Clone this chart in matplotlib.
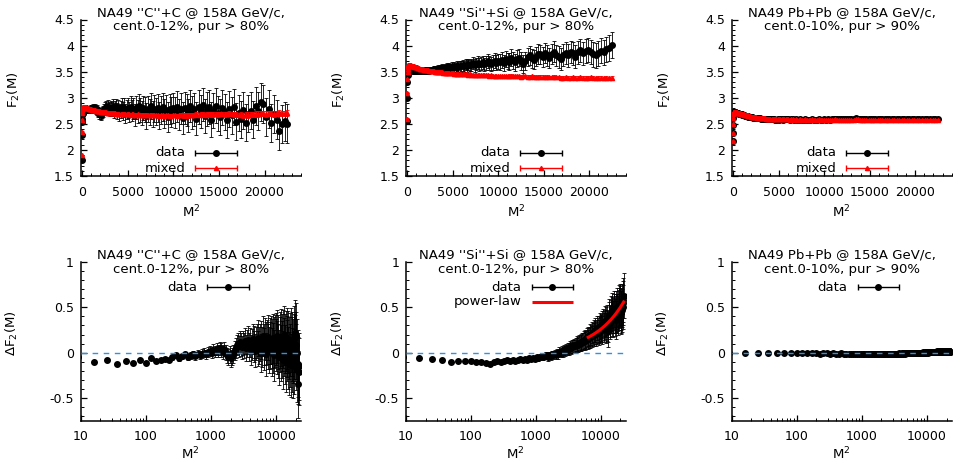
import numpy as np
import matplotlib
matplotlib.use('Agg')
import matplotlib.pyplot as plt
from matplotlib.ticker import MultipleLocator, LogLocator, NullFormatter

plt.rcParams['font.family'] = ['DejaVu Sans']
plt.rcParams['font.size'] = 9
plt.rcParams['mathtext.default'] = 'regular'

# ---------------- data ----------------
M_bins = np.arange(1, 151)          # M = 1 .. 150 bins
M2 = M_bins ** 2                     # x axis: M^2

titles = ["NA49 ''C''+C @ 158A GeV/c,\ncent.0-12%, pur > 80%",
          "NA49 ''Si''+Si @ 158A GeV/c,\ncent.0-12%, pur > 80%",
          "NA49 Pb+Pb @ 158A GeV/c,\ncent.0-10%, pur > 90%"]

C_mixed = [1.90, 2.35, 2.58, 2.70, 2.76, 2.79, 2.80, 2.81, 2.82, 2.82,
           2.82, 2.83, 2.82, 2.83, 2.82, 2.83, 2.82, 2.82, 2.82, 2.82,
           2.81, 2.81, 2.81, 2.80, 2.80, 2.80, 2.79, 2.79, 2.79, 2.78,
           2.78, 2.78, 2.77, 2.77, 2.77, 2.76, 2.76, 2.76, 2.75, 2.75,
           2.75, 2.74, 2.74, 2.74, 2.73, 2.73, 2.73, 2.72, 2.72, 2.72,
           2.72, 2.71, 2.71, 2.71, 2.71, 2.70, 2.70, 2.70, 2.70, 2.70,
           2.69, 2.69, 2.69, 2.69, 2.69, 2.68, 2.68, 2.69, 2.68, 2.68,
           2.68, 2.68, 2.67, 2.68, 2.68, 2.67, 2.67, 2.68, 2.67, 2.67,
           2.67, 2.66, 2.67, 2.67, 2.66, 2.66, 2.67, 2.66, 2.66, 2.66,
           2.66, 2.65, 2.66, 2.66, 2.65, 2.66, 2.66, 2.65, 2.65, 2.66,
           2.66, 2.65, 2.66, 2.67, 2.66, 2.66, 2.67, 2.66, 2.67, 2.67,
           2.67, 2.68, 2.67, 2.68, 2.68, 2.67, 2.68, 2.69, 2.68, 2.68,
           2.69, 2.68, 2.69, 2.69, 2.68, 2.69, 2.70, 2.69, 2.68, 2.68,
           2.67, 2.67, 2.66, 2.67, 2.67, 2.68, 2.68, 2.69, 2.69, 2.70,
           2.70, 2.69, 2.70, 2.70, 2.69, 2.70, 2.71, 2.70, 2.70, 2.71]

C_delta = [-0.10, -0.07, -0.05, -0.10, -0.08, -0.13, -0.09, -0.11, -0.08, -0.11,
           -0.06, -0.09, -0.08, -0.07, -0.08, -0.05, -0.03, -0.06, -0.04, -0.02,
           -0.05, -0.03, -0.02, -0.04, -0.01, -0.03, -0.01, 0.00, -0.02, 0.01,
           0.02, 0.00, 0.03, 0.01, 0.04, 0.02, 0.05, 0.03, 0.01, 0.04,
           0.00, -0.03, -0.05, -0.02, -0.06, -0.04, -0.01, 0.02, 0.05, 0.08,
           0.10, 0.07, 0.12, 0.09, 0.06, 0.11, 0.08, 0.13, 0.05, 0.10,
           0.14, 0.06, 0.11, 0.03, 0.09, 0.15, 0.07, 0.12, 0.02, 0.10,
           0.13, 0.05, 0.16, 0.08, 0.11, 0.00, 0.14, 0.06, 0.18, 0.09,
           0.04, 0.15, 0.10, -0.02, 0.12, 0.07, 0.17, 0.03, 0.13, 0.08,
           0.14, 0.01, 0.10, 0.16, 0.05, 0.11, -0.03, 0.13, 0.08, 0.15,
           0.06, 0.18, 0.02, 0.12, -0.05, 0.14, 0.09, 0.00, 0.17, 0.04,
           0.11, -0.08, 0.15, 0.06, 0.19, -0.02, 0.10, 0.13, -0.10, 0.07,
           0.16, 0.02, -0.06, 0.12, 0.05, -0.12, 0.09, -0.03, 0.14, -0.14,
           0.04, -0.08, 0.10, -0.15, 0.02, 0.07, -0.10, 0.15, 0.05, 0.22,
           0.18, -0.05, 0.08, -0.18, 0.00, -0.12, -0.35, -0.20, -0.15, -0.21]

C_err = [0.010, 0.010, 0.012, 0.012, 0.013, 0.014, 0.015, 0.016, 0.017, 0.018,
         0.019, 0.020, 0.022, 0.023, 0.025, 0.026, 0.028, 0.030, 0.031, 0.033,
         0.035, 0.037, 0.039, 0.041, 0.043, 0.045, 0.047, 0.049, 0.051, 0.054,
         0.056, 0.058, 0.061, 0.063, 0.066, 0.068, 0.071, 0.073, 0.076, 0.079,
         0.082, 0.085, 0.088, 0.091, 0.094, 0.097, 0.100, 0.104, 0.107, 0.110,
         0.114, 0.117, 0.121, 0.124, 0.128, 0.131, 0.135, 0.139, 0.142, 0.146,
         0.150, 0.154, 0.158, 0.162, 0.166, 0.170, 0.174, 0.178, 0.182, 0.186,
         0.190, 0.194, 0.198, 0.202, 0.206, 0.210, 0.214, 0.218, 0.222, 0.226,
         0.230, 0.233, 0.237, 0.240, 0.244, 0.247, 0.250, 0.254, 0.257, 0.260,
         0.263, 0.266, 0.269, 0.272, 0.275, 0.278, 0.281, 0.284, 0.287, 0.290,
         0.292, 0.295, 0.297, 0.300, 0.302, 0.305, 0.307, 0.309, 0.312, 0.314,
         0.316, 0.318, 0.320, 0.322, 0.324, 0.326, 0.328, 0.330, 0.332, 0.334,
         0.336, 0.337, 0.339, 0.341, 0.342, 0.344, 0.345, 0.347, 0.348, 0.350,
         0.351, 0.352, 0.354, 0.355, 0.356, 0.357, 0.358, 0.360, 0.361, 0.362,
         0.363, 0.364, 0.365, 0.366, 0.367, 0.368, 0.369, 0.370, 0.371, 0.372]

C_mixed_err = [0.004, 0.004, 0.005, 0.005, 0.005, 0.006, 0.006, 0.006, 0.007, 0.007,
               0.007, 0.008, 0.008, 0.008, 0.009, 0.009, 0.009, 0.010, 0.010, 0.010,
               0.011, 0.011, 0.011, 0.012, 0.012, 0.012, 0.013, 0.013, 0.013, 0.014,
               0.014, 0.014, 0.015, 0.015, 0.015, 0.016, 0.016, 0.016, 0.017, 0.017,
               0.017, 0.018, 0.018, 0.018, 0.019, 0.019, 0.019, 0.020, 0.020, 0.020,
               0.021, 0.021, 0.021, 0.022, 0.022, 0.022, 0.023, 0.023, 0.023, 0.024,
               0.024, 0.024, 0.025, 0.025, 0.025, 0.026, 0.026, 0.026, 0.027, 0.027,
               0.027, 0.028, 0.028, 0.028, 0.029, 0.029, 0.029, 0.030, 0.030, 0.030,
               0.031, 0.031, 0.031, 0.032, 0.032, 0.032, 0.033, 0.033, 0.033, 0.034,
               0.034, 0.034, 0.035, 0.035, 0.035, 0.036, 0.036, 0.036, 0.037, 0.037,
               0.037, 0.038, 0.038, 0.038, 0.039, 0.039, 0.039, 0.040, 0.040, 0.040,
               0.041, 0.041, 0.041, 0.042, 0.042, 0.042, 0.043, 0.043, 0.043, 0.044,
               0.044, 0.044, 0.045, 0.045, 0.045, 0.046, 0.046, 0.046, 0.047, 0.047,
               0.047, 0.048, 0.048, 0.048, 0.049, 0.049, 0.049, 0.050, 0.050, 0.050,
               0.051, 0.051, 0.051, 0.052, 0.052, 0.052, 0.053, 0.053, 0.053, 0.054]

Si_mixed = [2.60, 3.10, 3.35, 3.50, 3.56, 3.59, 3.60, 3.61, 3.61, 3.62,
            3.62, 3.62, 3.62, 3.62, 3.62, 3.62, 3.62, 3.61, 3.62, 3.61,
            3.61, 3.61, 3.61, 3.60, 3.60, 3.60, 3.60, 3.59, 3.59, 3.59,
            3.58, 3.58, 3.58, 3.57, 3.57, 3.57, 3.56, 3.56, 3.56, 3.55,
            3.55, 3.55, 3.54, 3.54, 3.54, 3.53, 3.53, 3.53, 3.52, 3.52,
            3.52, 3.51, 3.51, 3.51, 3.50, 3.50, 3.50, 3.50, 3.49, 3.49,
            3.49, 3.49, 3.48, 3.48, 3.48, 3.48, 3.47, 3.47, 3.47, 3.47,
            3.47, 3.46, 3.46, 3.46, 3.46, 3.45, 3.46, 3.45, 3.45, 3.45,
            3.45, 3.44, 3.45, 3.44, 3.44, 3.44, 3.44, 3.43, 3.44, 3.43,
            3.43, 3.43, 3.43, 3.43, 3.42, 3.43, 3.42, 3.42, 3.42, 3.42,
            3.42, 3.42, 3.41, 3.42, 3.41, 3.41, 3.42, 3.41, 3.41, 3.41,
            3.41, 3.40, 3.41, 3.41, 3.40, 3.40, 3.41, 3.40, 3.39, 3.40,
            3.40, 3.40, 3.39, 3.40, 3.39, 3.39, 3.40, 3.39, 3.39, 3.38,
            3.38, 3.39, 3.38, 3.38, 3.39, 3.38, 3.38, 3.39, 3.38, 3.38,
            3.38, 3.39, 3.38, 3.37, 3.38, 3.38, 3.37, 3.38, 3.37, 3.38]

Si_delta = [-0.05, -0.10, -0.05, -0.06, -0.07, -0.08, -0.10, -0.09, -0.09, -0.09,
            -0.10, -0.10, -0.11, -0.13, -0.10, -0.09, -0.10, -0.09, -0.08, -0.09,
            -0.08, -0.09, -0.08, -0.07, -0.08, -0.07, -0.08, -0.06, -0.07, -0.06,
            -0.07, -0.05, -0.06, -0.05, -0.04, -0.05, -0.04, -0.03, -0.05, -0.03,
            -0.04, -0.02, -0.03, -0.01, -0.03, 0.00, -0.02, 0.01, 0.00, 0.02,
            0.01, 0.03, 0.02, 0.04, 0.03, 0.05, 0.04, 0.06, 0.05, 0.07,
            0.07, 0.08, 0.07, 0.09, 0.08, 0.10, 0.09, 0.11, 0.10, 0.12,
            0.11, 0.13, 0.12, 0.14, 0.13, 0.15, 0.14, 0.17, 0.15, 0.18,
            0.16, 0.20, 0.17, 0.19, 0.22, 0.18, 0.21, 0.24, 0.20, 0.22,
            0.25, 0.21, 0.23, 0.27, 0.24, 0.22, 0.26, 0.29, 0.25, 0.28,
            0.27, 0.31, 0.25, 0.33, 0.30, 0.28, 0.35, 0.31, 0.27, 0.34,
            0.36, 0.30, 0.24, 0.29, 0.38, 0.41, 0.35, 0.33, 0.40, 0.44,
            0.43, 0.38, 0.46, 0.41, 0.37, 0.45, 0.48, 0.42, 0.39, 0.36,
            0.44, 0.47, 0.43, 0.50, 0.46, 0.41, 0.49, 0.52, 0.47, 0.51,
            0.53, 0.48, 0.45, 0.44, 0.47, 0.52, 0.50, 0.55, 0.58, 0.63]

Si_err = [0.005, 0.005, 0.006, 0.006, 0.007, 0.007, 0.008, 0.008, 0.009, 0.009,
          0.010, 0.010, 0.011, 0.012, 0.012, 0.013, 0.014, 0.014, 0.015, 0.016,
          0.017, 0.018, 0.019, 0.020, 0.021, 0.022, 0.023, 0.024, 0.025, 0.026,
          0.027, 0.028, 0.029, 0.030, 0.032, 0.033, 0.034, 0.035, 0.037, 0.038,
          0.039, 0.041, 0.042, 0.043, 0.045, 0.046, 0.048, 0.049, 0.051, 0.052,
          0.054, 0.055, 0.057, 0.058, 0.060, 0.062, 0.063, 0.065, 0.067, 0.068,
          0.070, 0.072, 0.074, 0.075, 0.077, 0.079, 0.081, 0.083, 0.085, 0.087,
          0.089, 0.091, 0.093, 0.095, 0.097, 0.099, 0.101, 0.103, 0.105, 0.107,
          0.109, 0.111, 0.113, 0.115, 0.117, 0.119, 0.121, 0.123, 0.125, 0.127,
          0.129, 0.131, 0.133, 0.135, 0.137, 0.139, 0.141, 0.143, 0.145, 0.147,
          0.149, 0.151, 0.153, 0.155, 0.157, 0.159, 0.161, 0.163, 0.165, 0.167,
          0.169, 0.171, 0.173, 0.175, 0.177, 0.179, 0.181, 0.183, 0.185, 0.187,
          0.189, 0.191, 0.193, 0.195, 0.197, 0.199, 0.201, 0.203, 0.205, 0.207,
          0.209, 0.211, 0.213, 0.215, 0.217, 0.219, 0.221, 0.223, 0.225, 0.227,
          0.229, 0.231, 0.233, 0.235, 0.237, 0.239, 0.241, 0.243, 0.245, 0.247]

Si_mixed_err = [0.003, 0.003, 0.003, 0.003, 0.003, 0.003, 0.003, 0.004, 0.004, 0.004,
                0.004, 0.004, 0.004, 0.004, 0.004, 0.005, 0.005, 0.005, 0.005, 0.005,
                0.005, 0.005, 0.006, 0.006, 0.006, 0.006, 0.006, 0.006, 0.007, 0.007,
                0.007, 0.007, 0.007, 0.008, 0.008, 0.008, 0.008, 0.008, 0.009, 0.009,
                0.009, 0.009, 0.010, 0.010, 0.010, 0.010, 0.011, 0.011, 0.011, 0.011,
                0.012, 0.012, 0.012, 0.012, 0.013, 0.013, 0.013, 0.013, 0.014, 0.014,
                0.014, 0.014, 0.015, 0.015, 0.015, 0.015, 0.016, 0.016, 0.016, 0.016,
                0.017, 0.017, 0.017, 0.017, 0.018, 0.018, 0.018, 0.018, 0.019, 0.019,
                0.019, 0.019, 0.020, 0.020, 0.020, 0.020, 0.021, 0.021, 0.021, 0.021,
                0.022, 0.022, 0.022, 0.022, 0.023, 0.023, 0.023, 0.023, 0.024, 0.024,
                0.024, 0.024, 0.025, 0.025, 0.025, 0.025, 0.026, 0.026, 0.026, 0.026,
                0.027, 0.027, 0.027, 0.027, 0.028, 0.028, 0.028, 0.028, 0.029, 0.029,
                0.029, 0.029, 0.030, 0.030, 0.030, 0.030, 0.031, 0.031, 0.031, 0.031,
                0.032, 0.032, 0.032, 0.032, 0.033, 0.033, 0.033, 0.033, 0.034, 0.034,
                0.034, 0.034, 0.035, 0.035, 0.035, 0.035, 0.036, 0.036, 0.036, 0.036]

Pb_mixed = [2.17, 2.33, 2.49, 2.62, 2.68, 2.71, 2.72, 2.73, 2.73, 2.73,
            2.73, 2.73, 2.73, 2.73, 2.73, 2.73, 2.72, 2.72, 2.72, 2.72,
            2.71, 2.71, 2.71, 2.71, 2.70, 2.70, 2.70, 2.70, 2.69, 2.69,
            2.69, 2.68, 2.68, 2.68, 2.67, 2.67, 2.67, 2.66, 2.66, 2.66,
            2.65, 2.65, 2.65, 2.64, 2.64, 2.64, 2.63, 2.63, 2.63, 2.63,
            2.62, 2.62, 2.62, 2.62, 2.61, 2.61, 2.61, 2.61, 2.61, 2.60,
            2.60, 2.60, 2.60, 2.60, 2.60, 2.60, 2.59, 2.59, 2.59, 2.59,
            2.59, 2.59, 2.59, 2.59, 2.59, 2.59, 2.59, 2.59, 2.58, 2.59,
            2.59, 2.58, 2.59, 2.58, 2.58, 2.59, 2.58, 2.58, 2.59, 2.58,
            2.58, 2.58, 2.59, 2.58, 2.58, 2.58, 2.59, 2.58, 2.58, 2.58,
            2.58, 2.58, 2.58, 2.58, 2.58, 2.59, 2.58, 2.58, 2.58, 2.58,
            2.58, 2.58, 2.58, 2.58, 2.58, 2.59, 2.59, 2.58, 2.58, 2.58,
            2.58, 2.58, 2.58, 2.58, 2.58, 2.58, 2.58, 2.58, 2.58, 2.58,
            2.58, 2.58, 2.58, 2.58, 2.58, 2.58, 2.58, 2.58, 2.58, 2.58,
            2.58, 2.58, 2.58, 2.58, 2.58, 2.58, 2.58, 2.58, 2.58, 2.58]

Pb_delta = [0.000, -0.005, -0.008, -0.006, -0.007, -0.007, -0.006, -0.008, -0.007, -0.008,
            -0.007, -0.008, -0.008, -0.007, -0.009, -0.008, -0.008, -0.009, -0.008, -0.009,
            -0.009, -0.008, -0.009, -0.010, -0.009, -0.009, -0.010, -0.009, -0.010, -0.010,
            -0.010, -0.011, -0.010, -0.011, -0.010, -0.011, -0.012, -0.011, -0.010, -0.012,
            -0.011, -0.012, -0.011, -0.013, -0.012, -0.011, -0.013, -0.012, -0.014, -0.012,
            -0.013, -0.011, -0.014, -0.012, -0.010, -0.013, -0.011, -0.009, -0.012, -0.010,
            -0.008, -0.011, -0.009, -0.007, -0.010, -0.008, -0.006, -0.009, -0.007, -0.005,
            -0.008, -0.006, -0.004, -0.007, -0.005, -0.003, -0.006, -0.004, -0.002, -0.005,
            -0.003, -0.001, -0.004, -0.002, 0.000, -0.003, -0.001, 0.001, -0.002, 0.000,
            0.002, -0.001, 0.001, 0.003, 0.000, 0.002, 0.004, 0.001, 0.003, 0.005,
            0.002, 0.006, 0.003, 0.007, 0.004, 0.008, 0.005, 0.009, 0.006, 0.010,
            0.007, 0.011, 0.008, 0.012, 0.009, 0.013, 0.010, 0.011, 0.014, 0.009,
            0.012, 0.015, 0.010, 0.013, 0.016, 0.011, 0.014, 0.009, 0.015, 0.012,
            0.016, 0.010, 0.013, 0.017, 0.011, 0.014, 0.008, 0.015, 0.012, 0.016,
            0.010, 0.013, 0.017, 0.011, 0.014, 0.009, 0.015, 0.012, 0.016, 0.011]

Pb_err = [0.002, 0.002, 0.002, 0.002, 0.002, 0.003, 0.003, 0.003, 0.003, 0.003,
          0.003, 0.003, 0.003, 0.004, 0.004, 0.004, 0.004, 0.004, 0.004, 0.004,
          0.005, 0.005, 0.005, 0.005, 0.005, 0.005, 0.006, 0.006, 0.006, 0.006,
          0.006, 0.006, 0.007, 0.007, 0.007, 0.007, 0.007, 0.008, 0.008, 0.008,
          0.008, 0.008, 0.009, 0.009, 0.009, 0.009, 0.010, 0.010, 0.010, 0.010,
          0.011, 0.011, 0.011, 0.011, 0.012, 0.012, 0.012, 0.012, 0.013, 0.013,
          0.013, 0.013, 0.014, 0.014, 0.014, 0.014, 0.015, 0.015, 0.015, 0.015,
          0.016, 0.016, 0.016, 0.016, 0.017, 0.017, 0.017, 0.017, 0.018, 0.018,
          0.018, 0.018, 0.019, 0.019, 0.019, 0.019, 0.020, 0.020, 0.020, 0.020,
          0.021, 0.021, 0.021, 0.021, 0.022, 0.022, 0.022, 0.022, 0.023, 0.023,
          0.023, 0.023, 0.024, 0.024, 0.024, 0.024, 0.025, 0.025, 0.025, 0.025,
          0.026, 0.026, 0.026, 0.026, 0.027, 0.027, 0.027, 0.027, 0.028, 0.028,
          0.028, 0.028, 0.029, 0.029, 0.029, 0.029, 0.030, 0.030, 0.030, 0.030,
          0.031, 0.031, 0.031, 0.031, 0.032, 0.032, 0.032, 0.032, 0.033, 0.033,
          0.033, 0.033, 0.034, 0.034, 0.034, 0.034, 0.035, 0.035, 0.035, 0.035]

Pb_mixed_err = [0.001, 0.001, 0.001, 0.001, 0.001, 0.001, 0.001, 0.001, 0.001, 0.001,
                0.001, 0.001, 0.001, 0.002, 0.002, 0.002, 0.002, 0.002, 0.002, 0.002,
                0.002, 0.002, 0.002, 0.002, 0.002, 0.002, 0.002, 0.002, 0.003, 0.003,
                0.003, 0.003, 0.003, 0.003, 0.003, 0.003, 0.003, 0.003, 0.003, 0.003,
                0.003, 0.003, 0.004, 0.004, 0.004, 0.004, 0.004, 0.004, 0.004, 0.004,
                0.004, 0.004, 0.004, 0.004, 0.005, 0.005, 0.005, 0.005, 0.005, 0.005,
                0.005, 0.005, 0.005, 0.005, 0.005, 0.005, 0.006, 0.006, 0.006, 0.006,
                0.006, 0.006, 0.006, 0.006, 0.006, 0.006, 0.006, 0.006, 0.007, 0.007,
                0.007, 0.007, 0.007, 0.007, 0.007, 0.007, 0.007, 0.007, 0.007, 0.007,
                0.007, 0.008, 0.008, 0.008, 0.008, 0.008, 0.008, 0.008, 0.008, 0.008,
                0.008, 0.008, 0.008, 0.008, 0.009, 0.009, 0.009, 0.009, 0.009, 0.009,
                0.009, 0.009, 0.009, 0.009, 0.009, 0.009, 0.010, 0.010, 0.010, 0.010,
                0.010, 0.010, 0.010, 0.010, 0.010, 0.010, 0.010, 0.010, 0.011, 0.011,
                0.011, 0.011, 0.011, 0.011, 0.011, 0.011, 0.011, 0.011, 0.011, 0.011,
                0.011, 0.012, 0.012, 0.012, 0.012, 0.012, 0.012, 0.012, 0.012, 0.012]

# power-law fit for Si+Si: dF2 = a * (M^2)^b over the fit range
fit_a = 4.19e-5
fit_b = 0.948
fit_range = (6400, 22500)

upper_yticks = [1.5, 2, 2.5, 3, 3.5, 4, 4.5]
upper_yticklabels = ['1.5', '2', '2.5', '3', '3.5', '4', '4.5']
upper_xticks = [0, 5000, 10000, 15000, 20000]
upper_xticklabels = ['0', '5000', '10000', '15000', '20000']
lower_yticks = [-0.5, 0, 0.5, 1]
lower_yticklabels = ['-0.5', '0', '0.5', '1']
lower_xticks = [10, 100, 1000, 10000]
lower_xticklabels = ['10', '100', '1000', '10000']

systems = [
    (C_mixed, C_delta, C_err, C_mixed_err),
    (Si_mixed, Si_delta, Si_err, Si_mixed_err),
    (Pb_mixed, Pb_delta, Pb_err, Pb_mixed_err),
]

# ---------------- figure ----------------
W, H = 957, 474
fig = plt.figure(figsize=(W / 100, H / 100), dpi=100)

lefts = [80.7, 406.0, 731.7]
widths = [220.3, 219.5, 220.0]
upper_top, upper_bot = 19.5, 176.0
lower_top, lower_bot = 262.0, 420.7

RED = '#ff0000'
BLUE = '#2a93ee'


def style(ax):
    for s in ['top', 'right']:
        ax.spines[s].set_visible(False)
    for s in ['left', 'bottom']:
        ax.spines[s].set_linewidth(1.1)
    ax.tick_params(which='both', direction='in', top=False, right=False,
                   labelsize=9, colors='black')
    ax.tick_params(which='major', length=4.5, width=0.9)
    ax.tick_params(which='minor', length=2.3, width=0.7)
    ax.tick_params(axis='x', pad=7)
    ax.tick_params(axis='y', pad=5)


def legend_entry(ax, y, label, tx, x0, x1, color, marker=None, ms=4,
                 caps=True, lw=1.0):
    ax.text(tx, y, label, transform=ax.transAxes, ha='right',
            va='center', fontsize=9.5)
    ax.plot([x0, x1], [y, y], color=color, lw=lw, transform=ax.transAxes,
            clip_on=False, solid_capstyle='butt')
    if caps:
        ax.plot([x0, x1], [y, y], ls='none', marker='|', ms=5, mew=1.0,
                color=color, transform=ax.transAxes, clip_on=False)
    if marker:
        ax.plot([(x0 + x1) / 2], [y], ls='none', marker=marker, ms=ms,
                color=color, transform=ax.transAxes, clip_on=False)


for i, (mixed, delta, err, merr) in enumerate(systems):
    mixed = np.array(mixed)
    delta = np.array(delta)
    err = np.array(err)
    merr = np.array(merr)
    data = mixed + delta

    # ---- upper panel ----
    ax = fig.add_axes([lefts[i] / W, (H - upper_bot) / H, widths[i] / W,
                       (upper_bot - upper_top) / H])
    ax.errorbar(M2, data, yerr=err, fmt='o', color='black', ms=4,
                elinewidth=0.6, capsize=1.6, capthick=0.6, zorder=2)
    ax.errorbar(M2, mixed, yerr=merr, fmt='^', color=RED, ms=3,
                elinewidth=0.6, capsize=1.6, capthick=0.6, zorder=3)
    ax.set_xlim(-150, 24000)
    ax.set_ylim(1.5, 4.5)
    ax.set_xticks(upper_xticks)
    ax.set_xticklabels(upper_xticklabels)
    ax.set_yticks(upper_yticks)
    ax.set_yticklabels(upper_yticklabels)
    ax.xaxis.set_minor_locator(MultipleLocator(1000))
    ax.yaxis.set_minor_locator(MultipleLocator(0.1))
    style(ax)
    ax.set_ylabel('F$_2$(M)', fontsize=9.5, va='center', ha='center')
    ax.yaxis.set_label_coords(-0.305, 0.55)
    ax.set_xlabel('M$^2$', fontsize=9.5, va='center')
    ax.xaxis.set_label_coords(0.5, -0.228)
    ax.text(0.5, 1.0, titles[i], transform=ax.transAxes, ha='center',
            va='center', fontsize=9.5, linespacing=1.15, multialignment='center')
    legend_entry(ax, 0.147, 'data', 0.475, 0.52, 0.71, 'black', 'o', 4)
    legend_entry(ax, 0.051, 'mixed', 0.475, 0.52, 0.71, RED, '^', 3)

    # ---- lower panel ----
    ax2 = fig.add_axes([lefts[i] / W, (H - lower_bot) / H, widths[i] / W,
                        (lower_bot - lower_top) / H])
    ax2.errorbar(M2, delta, yerr=err, fmt='o', color='black', ms=4,
                 elinewidth=0.6, capsize=1.6, capthick=0.6, zorder=2)
    ax2.axhline(0, color=BLUE, lw=1.0, ls=(0, (4, 4)), zorder=4)
    ax2.set_xscale('log')
    ax2.set_xlim(10, 24000)
    ax2.set_ylim(-0.75, 1)
    ax2.set_xticks(lower_xticks)
    ax2.set_xticklabels(lower_xticklabels)
    ax2.xaxis.set_minor_locator(LogLocator(base=10, subs=np.arange(2, 10)))
    ax2.xaxis.set_minor_formatter(NullFormatter())
    ax2.set_yticks(lower_yticks)
    ax2.set_yticklabels(lower_yticklabels)
    ax2.yaxis.set_minor_locator(MultipleLocator(0.1))
    style(ax2)
    ax2.set_ylabel('$\\Delta$F$_2$(M)', fontsize=9.5, va='center', ha='center')
    ax2.yaxis.set_label_coords(-0.312, 0.553)
    ax2.set_xlabel('M$^2$', fontsize=9.5, va='center')
    ax2.xaxis.set_label_coords(0.496, -0.208)
    ax2.text(0.5, 1.0, titles[i], transform=ax2.transAxes, ha='center',
             va='center', fontsize=9.5, linespacing=1.15, multialignment='center')
    legend_entry(ax2, 0.842, 'data', 0.527, 0.572, 0.762, 'black', 'o', 4)

    if i == 1:
        xf = np.geomspace(fit_range[0], fit_range[1], 200)
        ax2.plot(xf, fit_a * xf ** fit_b, color=RED, lw=2.2, zorder=5)
        legend_entry(ax2, 0.748, 'power-law', 0.527, 0.572, 0.762, RED,
                     caps=False, lw=2.2)

fig.savefig('out.png', dpi=100)
